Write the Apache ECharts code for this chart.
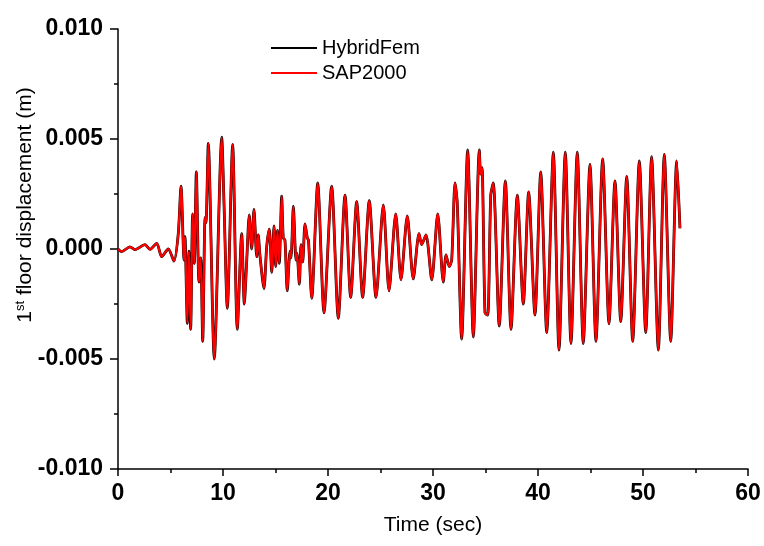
<!DOCTYPE html>
<html>
<head>
<meta charset="utf-8">
<script src="https://cdn.jsdelivr.net/npm/echarts@6/dist/echarts.min.js"></script>
<style>html,body{margin:0;padding:0;background:#fff}#c{width:764px;height:546px}</style>
</head>
<body>
<div id="c"></div>
<script>
const timeSec = [0,0.35,1.14,1.6,2.57,3.05,3.69,4.16,4.79,5.33,5.74,6.0,6.29,6.38,6.6,6.76,6.92,7.11,7.27,7.46,7.71,7.88,8.07,8.29,8.38,8.6,9.17,9.88,10.1,10.41,10.92,11.36,11.78,12.03,12.26,12.5,12.73,12.95,13.21,13.36,13.52,13.9,14.16,14.41,14.64,14.86,15.02,15.19,15.36,15.59,15.74,15.9,16.12,16.38,16.48,16.7,16.95,17.05,17.27,17.43,17.59,17.81,18.03,18.14,18.45,19.02,19.62,20.35,20.98,21.62,22.16,22.73,23.3,23.93,24.57,25.27,25.81,26.45,26.95,27.55,28.12,28.67,28.92,29.33,29.88,30.45,30.98,31.24,31.55,31.78,32.1,32.31,32.73,33.3,33.84,34.41,34.54,34.67,34.95,35.21,35.5,35.74,36.31,36.89,37.43,38.03,38.6,39.11,39.71,40.26,40.83,41.46,42.0,42.6,43.14,43.74,44.31,44.95,45.52,46.16,46.76,47.33,47.88,48.45,49.02,49.65,50.26,50.82,51.46,52.03,52.64,53.21,53.52];
const hybridFem = [0,-0.00012,0.0001,-0.00003,0.0002,-0.00002,0.00026,-0.00035,0.0,-0.00055,0.0007,0.00286,-0.0005,0.00056,-0.00338,-0.0001,-0.00365,0.0016,-0.00065,0.0035,-0.0015,-0.0004,-0.0042,0.00144,0.0012,0.0048,-0.005,0.00508,0.002,-0.0027,0.00476,-0.00365,0.0007,-0.0025,-0.00053,0.00155,0,0.0018,-0.00035,0.00064,-0.0003,-0.0018,0.0001,0.0009,-0.00106,0.00105,-0.0008,0.00086,-0.00065,0.0024,0.0005,0.0004,-0.0019,-0.0001,-0.0004,0.00195,-0.0005,-0.0002,-0.0016,0.0002,-0.0006,0.00114,0.0005,0.0004,-0.00224,0.003,-0.0029,0.00286,-0.00315,0.00245,-0.0022,0.00215,-0.0022,0.0022,-0.0022,0.002,-0.0019,0.0016,-0.0014,0.0015,-0.00136,0.0007,0.0002,0.00064,-0.0014,0.0016,-0.0015,-0.00027,-0.0008,-0.0005,0.003,0.0021,-0.0041,0.0045,-0.004,0.0045,0.0034,0.0037,-0.0029,-0.003,0.00245,0.003,-0.0035,0.0031,-0.00365,0.00245,-0.0025,0.0026,-0.003,0.0035,-0.0038,0.0044,-0.0046,0.0044,-0.0043,0.0044,-0.0043,0.00385,-0.0042,0.0041,-0.0034,0.0031,-0.0033,0.0033,-0.0042,0.004,-0.0038,0.0042,-0.0046,0.0043,-0.0042,0.004,0.00094];
const sap2000 = [0,-0.00012,0.0001,-0.00003,0.0002,-0.00002,0.00026,-0.00035,0.0,-0.00055,0.0007,0.00286,-0.0005,0.00056,-0.00338,-0.0001,-0.00365,0.0016,-0.00065,0.0035,-0.0015,-0.0004,-0.0042,0.00144,0.0012,0.0048,-0.005,0.00508,0.002,-0.0027,0.00476,-0.00365,0.0007,-0.0025,-0.00053,0.00155,0,0.0018,-0.00035,0.00064,-0.0003,-0.0018,0.0001,0.0009,-0.00106,0.00105,-0.0008,0.00086,-0.00065,0.0024,0.0005,0.0004,-0.0019,-0.0001,-0.0004,0.00195,-0.0005,-0.0002,-0.0016,0.0002,-0.0006,0.00114,0.0005,0.0004,-0.00224,0.003,-0.0029,0.00286,-0.00315,0.00245,-0.0022,0.00215,-0.0022,0.0022,-0.0022,0.002,-0.0019,0.0016,-0.0014,0.0015,-0.00136,0.0007,0.0002,0.00064,-0.0014,0.0016,-0.0015,-0.00027,-0.0008,-0.0005,0.003,0.0021,-0.0041,0.0045,-0.004,0.0045,0.0034,0.0037,-0.0029,-0.003,0.00245,0.003,-0.0035,0.0031,-0.00365,0.00245,-0.0025,0.0026,-0.003,0.0035,-0.0038,0.0044,-0.0046,0.0044,-0.0043,0.0044,-0.0043,0.00385,-0.0042,0.0041,-0.0034,0.0031,-0.0033,0.0033,-0.0042,0.004,-0.0038,0.0042,-0.0046,0.0043,-0.0042,0.004,0.00094];
const seriesNames = ['HybridFem', 'SAP2000'];
const xTitle = 'Time (sec)';

const FONT = 'Liberation Sans, Arial, sans-serif';
const chart = echarts.init(document.getElementById('c'), null, {renderer: 'canvas'});
const pair = (ys) => timeSec.map((t, i) => [t, ys[i]]);
chart.setOption({
  animation: false,
  backgroundColor: '#fff',
  grid: {left: 118, right: 16, top: 29, bottom: 77, containLabel: false, outerBoundsMode: 'none'},
  legend: {
    orient: 'vertical', left: 266, top: 33, itemWidth: 46, itemHeight: 2, itemGap: 5,
    icon: 'rect',
    textStyle: {fontFamily: FONT, fontSize: 20, lineHeight: 20, color: '#000'},
    data: seriesNames
  },
  xAxis: {
    type: 'value', min: 0, max: 60, interval: 10,
    name: xTitle, nameLocation: 'middle', nameGap: 46, nameMoveOverlap: false,
    nameTextStyle: {fontFamily: FONT, fontSize: 21, color: '#000'},
    axisLine: {show: true, onZero: false, lineStyle: {color: '#000', width: 1.5}},
    axisTick: {show: true, inside: false, length: 7, lineStyle: {color: '#000', width: 1.5}},
    minorTick: {show: true, splitNumber: 2, length: 4, lineStyle: {color: '#000', width: 1.5}},
    axisLabel: {fontFamily: FONT, fontSize: 23, fontWeight: 'bold', color: '#000', margin: 13},
    splitLine: {show: false}
  },
  yAxis: {
    type: 'value', min: -0.01, max: 0.01, interval: 0.005,
    name: '{n|1}{s|st}{n| floor displacement (m)}', nameLocation: 'middle', nameGap: 82, nameMoveOverlap: false,
    nameTextStyle: {fontFamily: FONT, fontSize: 21, color: '#000', padding: [0, 0, 0, 88],
      rich: {n: {fontFamily: FONT, fontSize: 21, color: '#000'}, s: {fontFamily: FONT, fontSize: 13, color: '#000', verticalAlign: 'top', padding: [0, 0, 9, 0]}}},
    axisLine: {show: true, onZero: false, lineStyle: {color: '#000', width: 1.5}},
    axisTick: {show: true, inside: false, length: 8, lineStyle: {color: '#000', width: 1.5}},
    minorTick: {show: true, splitNumber: 2, length: 4, lineStyle: {color: '#000', width: 1.5}},
    axisLabel: {fontFamily: FONT, fontSize: 23, fontWeight: 'bold', color: '#000', margin: 15,
      formatter: v => v.toFixed(3)},
    splitLine: {show: false}
  },
  series: [
    {name: seriesNames[0], type: 'line', data: pair(hybridFem), symbol: 'none', smooth: 0.25,
      lineStyle: {color: '#000', width: 2.8}, itemStyle: {color: '#000'}, z: 2},
    {name: seriesNames[1], type: 'line', data: pair(sap2000), symbol: 'none', smooth: 0.25,
      lineStyle: {color: '#ff0000', width: 2.2}, itemStyle: {color: '#ff0000'}, z: 3}
  ]
});
</script>
</body>
</html>
